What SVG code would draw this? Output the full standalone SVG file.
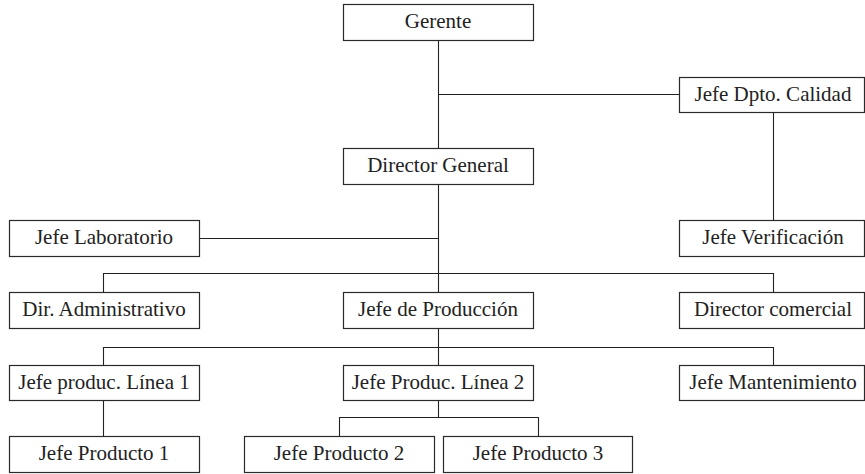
<svg xmlns="http://www.w3.org/2000/svg" width="865" height="474" viewBox="0 0 865 474">
<style>
.box{fill:#fff;stroke:#2a2a2a;stroke-width:1.2}
.lbl{font-family:"Liberation Serif","Times New Roman",serif;font-size:21px;fill:#222;text-anchor:middle}
.con{fill:none;stroke:#222;stroke-width:1.1}
</style>
<rect width="865" height="474" fill="#fff"/>
<g id="connectors" class="con">
<path d="M438.5 40.5V148.5"/>
<path d="M438.5 94.5H679.5"/>
<path d="M773.5 112.5V220.5"/>
<path d="M438.5 184.5V292.5"/>
<path d="M199.5 238.5H438.5"/>
<path d="M103.5 292.5V273.5H773.5V292.5"/>
<path d="M438.5 328.5V365.5"/>
<path d="M103.5 365.5V347.5H773.5V365.5"/>
<path d="M103.5 400.5V436.5"/>
<path d="M438.5 400.5V417.5"/>
<path d="M339.5 436.5V417.5H538.5V436.5"/>
</g>
<g id="gerente"><rect class="box" x="343.5" y="4.5" width="190" height="36"/><text class="lbl" x="438" y="28">Gerente</text></g>
<g id="calidad"><rect class="box" x="679.5" y="77.5" width="185" height="35"/><text class="lbl" x="773" y="101">Jefe Dpto. Calidad</text></g>
<g id="director-general"><rect class="box" x="343.5" y="148.5" width="190" height="36"/><text class="lbl" x="438" y="172">Director General</text></g>
<g id="laboratorio"><rect class="box" x="9.5" y="220.5" width="190" height="36"/><text class="lbl" x="104" y="244">Jefe Laboratorio</text></g>
<g id="verificacion"><rect class="box" x="679.5" y="220.5" width="185" height="36"/><text class="lbl" x="773" y="244">Jefe Verificación</text></g>
<g id="dir-administrativo"><rect class="box" x="9.5" y="292.5" width="190" height="36"/><text class="lbl" x="104" y="316">Dir. Administrativo</text></g>
<g id="jefe-produccion"><rect class="box" x="343.5" y="292.5" width="190" height="36"/><text class="lbl" x="438" y="316">Jefe de Producción</text></g>
<g id="director-comercial"><rect class="box" x="679.5" y="292.5" width="185" height="36"/><text class="lbl" x="773" y="316">Director comercial</text></g>
<g id="linea1"><rect class="box" x="9.5" y="365.5" width="190" height="35"/><text class="lbl" x="104" y="389">Jefe produc. Línea 1</text></g>
<g id="linea2"><rect class="box" x="343.5" y="365.5" width="190" height="35"/><text class="lbl" x="438" y="389">Jefe Produc. Línea 2</text></g>
<g id="mantenimiento"><rect class="box" x="679.5" y="365.5" width="185" height="35"/><text class="lbl" x="773" y="389">Jefe Mantenimiento</text></g>
<g id="producto1"><rect class="box" x="9.5" y="436.5" width="190" height="36"/><text class="lbl" x="104" y="460">Jefe Producto 1</text></g>
<g id="producto2"><rect class="box" x="244.5" y="436.5" width="190" height="36"/><text class="lbl" x="339" y="460">Jefe Producto 2</text></g>
<g id="producto3"><rect class="box" x="443.5" y="436.5" width="189" height="36"/><text class="lbl" x="538" y="460">Jefe Producto 3</text></g>
</svg>
